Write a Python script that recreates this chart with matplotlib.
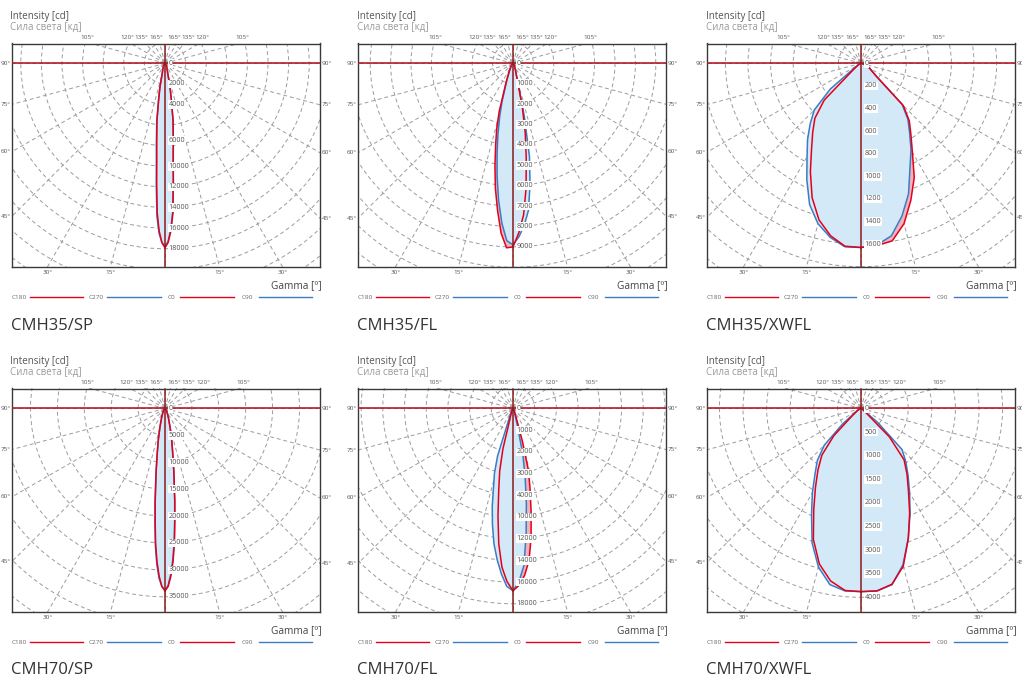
import numpy as np
import matplotlib
matplotlib.use("Agg")
import matplotlib.pyplot as plt
from matplotlib.patches import Circle
from matplotlib.lines import Line2D

plt.rcParams['font.family'] = ['Open Sans', 'DejaVu Sans']

# ---------------- data ----------------
TITLES = ["CMH35/SP", "CMH35/FL", "CMH35/XWFL", "CMH70/SP", "CMH70/FL", "CMH70/XWFL"]

# CMH35/SP
P1_GAMMA = [0, 1, 2, 3, 4, 5, 6, 8, 10, 12, 15, 20, 30, 45, 60, 90]
P1_C0 = [17900, 17400, 16300, 14600, 11650, 9200, 7750, 5650, 3500, 2350, 1050, 600, 300, 100, 50, 0]
P1_C180 = [17900, 17400, 16300, 14500, 11600, 9200, 7700, 5600, 3500, 2350, 1050, 600, 300, 100, 50, 0]
P1_C90 = [17800, 17300, 16100, 14400, 11500, 9100, 7700, 5600, 3500, 2350, 1050, 600, 300, 100, 50, 0]
P1_C270 = [17800, 17400, 16500, 14900, 12100, 9600, 8000, 5800, 3600, 2400, 1050, 600, 300, 100, 50, 0]
P1_STEP = 2000
P1_LABELS = ["0", "2000", "4000", "6000", "10000", "12000", "14000", "16000", "18000"]
P1_LABEL_R = [0, 2000, 4000, 7500, 10000, 12000, 14000, 16000, 18000]

# CMH35/FL
P2_GAMMA = [0, 2, 4, 6, 8, 10, 12, 14, 16, 20, 25, 30, 45, 60, 90]
P2_C0 = [9000, 8300, 7450, 6150, 4650, 3450, 2200, 1000, 600, 350, 200, 150, 50, 25, 0]
P2_C180 = [9000, 9050, 8350, 7250, 6200, 5100, 4100, 3300, 2450, 1000, 450, 250, 75, 25, 0]
P2_C90 = [8900, 8500, 7950, 7250, 6000, 4650, 2700, 1100, 600, 350, 200, 150, 50, 25, 0]
P2_C270 = [8900, 8700, 7850, 6750, 5600, 4500, 3550, 2700, 1950, 850, 400, 200, 75, 25, 0]
P2_STEP = 1000
P2_LABELS = ["0", "1000", "2000", "3000", "4000", "5000", "6000", "7000", "8000", "9000"]
P2_LABEL_R = [0, 1000, 2000, 3000, 4000, 5000, 6000, 7000, 8000, 9000]

# CMH35/XWFL
P3_GAMMA = [0, 5, 10, 15, 20, 25, 30, 35, 40, 45, 50, 55, 60, 70, 80, 90]
P3_C0 = [1630, 1620, 1595, 1470, 1290, 1115, 910, 770, 665, 530, 175, 115, 90, 35, 10, 0]
P3_C180 = [1630, 1625, 1550, 1435, 1265, 1060, 875, 745, 635, 460, 90, 45, 25, 15, 5, 0]
P3_C90 = [1630, 1615, 1550, 1400, 1230, 1025, 885, 750, 645, 515, 175, 115, 90, 35, 10, 0]
P3_C270 = [1630, 1630, 1565, 1470, 1330, 1135, 955, 825, 700, 585, 355, 70, 25, 15, 5, 0]
P3_STEP = 200
P3_LABELS = ["0", "200", "400", "600", "800", "1000", "1200", "1400", "1600"]
P3_LABEL_R = [0, 200, 400, 600, 800, 1000, 1200, 1400, 1600]

# CMH70/SP
P4_GAMMA = [0, 1, 2, 3, 4, 5, 6, 8, 10, 12, 15, 20, 30, 45, 60, 90]
P4_C0 = [33900, 33100, 31200, 28500, 25100, 21000, 17500, 11900, 8200, 6000, 3700, 1900, 750, 280, 90, 0]
P4_C180 = [33900, 33100, 31200, 28500, 25100, 21000, 17500, 11900, 8200, 6000, 3700, 1900, 750, 280, 90, 0]
P4_C90 = [33800, 32900, 30800, 28000, 24600, 20600, 17200, 11700, 8100, 6000, 3700, 1900, 750, 280, 90, 0]
P4_C270 = [33800, 33100, 31600, 29000, 25600, 21400, 17700, 12000, 8200, 6000, 3700, 1900, 750, 280, 90, 0]
P4_STEP = 5000
P4_LABELS = ["0", "5000", "10000", "15000", "20000", "25000", "30000", "35000"]
P4_LABEL_R = [0, 5000, 10000, 15000, 20000, 25000, 30000, 35000]

# CMH70/FL
P5_GAMMA = [0, 2, 4, 6, 8, 10, 12, 14, 16, 18, 20, 25, 30, 45, 60, 90]
P5_C0 = [16800, 16300, 15400, 14100, 12000, 9600, 7550, 5900, 3150, 1300, 750, 370, 180, 90, 45, 0]
P5_C180 = [16800, 15950, 14650, 12550, 9950, 7550, 5900, 3850, 1100, 650, 450, 280, 180, 90, 45, 0]
P5_C90 = [16800, 15950, 14500, 11600, 8850, 6450, 4400, 1850, 900, 550, 370, 280, 180, 90, 45, 0]
P5_C270 = [16800, 16400, 15300, 14000, 12600, 10900, 9200, 7400, 6200, 4600, 1400, 550, 280, 90, 45, 0]
P5_STEP = 2000
P5_LABELS = ["0", "1000", "2000", "3000", "4000", "10000", "12000", "14000", "16000", "18000"]
P5_LABEL_R = [0, 2000, 4000, 6000, 8000, 10000, 12000, 14000, 16000, 18000]

# CMH70/XWFL
P6_GAMMA = [0, 5, 10, 15, 20, 25, 30, 35, 40, 45, 50, 55, 60, 70, 80, 90]
P6_C0 = [3880, 3880, 3780, 3460, 2930, 2440, 2010, 1700, 1420, 850, 130, 65, 40, 20, 10, 0]
P6_C180 = [3880, 3870, 3710, 3410, 2950, 2370, 1930, 1590, 1290, 810, 250, 130, 85, 40, 20, 0]
P6_C90 = [3880, 3880, 3790, 3430, 2930, 2460, 2060, 1740, 1480, 1230, 470, 85, 40, 20, 10, 0]
P6_C270 = [3880, 3880, 3790, 3480, 3030, 2480, 2060, 1700, 1440, 1100, 510, 170, 85, 40, 20, 0]
P6_STEP = 500
P6_LABELS = ["0", "500", "1000", "1500", "2000", "2500", "3000", "3500", "4000"]
P6_LABEL_R = [0, 500, 1000, 1500, 2000, 2500, 3000, 3500, 4000]

# px spacing of grid circles in each panel
STEP_PX = [20.6, 20.4, 22.6, 26.9, 21.7, 23.6]

TOP_ANGLES = [105, 120, 135, 165]
SIDE_ANGLES = [90, 75, 60, 45]
BOTTOM_ANGLES = [15, 30]
LEGEND_NAMES = ["C180", "C270", "C0", "C90"]

PANELS = [
    (P1_GAMMA, P1_C0, P1_C180, P1_C90, P1_C270, P1_STEP, P1_LABELS, P1_LABEL_R),
    (P2_GAMMA, P2_C0, P2_C180, P2_C90, P2_C270, P2_STEP, P2_LABELS, P2_LABEL_R),
    (P3_GAMMA, P3_C0, P3_C180, P3_C90, P3_C270, P3_STEP, P3_LABELS, P3_LABEL_R),
    (P4_GAMMA, P4_C0, P4_C180, P4_C90, P4_C270, P4_STEP, P4_LABELS, P4_LABEL_R),
    (P5_GAMMA, P5_C0, P5_C180, P5_C90, P5_C270, P5_STEP, P5_LABELS, P5_LABEL_R),
    (P6_GAMMA, P6_C0, P6_C180, P6_C90, P6_C270, P6_STEP, P6_LABELS, P6_LABEL_R),
]

# ---------------- layout ----------------
W, H = 1022, 677
fig = plt.figure(figsize=(W / 100, H / 100), dpi=100)

COL_LEFT = [12, 358, 707]
COL_OX = [165, 513, 861]
FRAME_W = 308
ROW_TOP = [43.5, 388.5]
ROW_OY = [63.3, 408.5]
FRAME_H = 223.5
ROW_Y0 = [0, 345]

RED = "#e3001b"
BLUE = "#3b7cc4"
FILL_BLUE = "#d4e9f7"
FILL_PINK = "#f2b4bc"
GRID = "#9c9c9c"


def ftext(x, y, s, **kw):
    fig.text(x / W, 1 - y / H, s, **kw)


def fline(x0, x1, y, color):
    fig.add_artist(Line2D([x0 / W, x1 / W], [1 - y / H, 1 - y / H],
                          transform=fig.transFigure, color=color, lw=1.0))


for i, (gam, c0, c180, c90, c270, step, labels, label_r) in enumerate(PANELS):
    row, col = divmod(i, 3)
    left, ox = COL_LEFT[col], COL_OX[col]
    top, oy = ROW_TOP[row], ROW_OY[row]
    y0 = ROW_Y0[row]
    right = left + FRAME_W
    bottom = top + FRAME_H
    cpp = step / STEP_PX[i]  # cd per pixel

    ax = fig.add_axes([left / W, 1 - bottom / H, FRAME_W / W, FRAME_H / H])
    ax.set_xlim((left - ox) * cpp, (right - ox) * cpp)
    ax.set_ylim(-(bottom - oy) * cpp, (oy - top) * cpp)
    ax.set_xticks([])
    ax.set_yticks([])
    for sp in ax.spines.values():
        sp.set_color("#3a3a3a")
        sp.set_linewidth(1.0)

    # grid circles
    nmax = int(270 / STEP_PX[i]) + 1
    for k in range(1, nmax + 1):
        ax.add_patch(Circle((0, 0), k * step, fill=False, ec=GRID, lw=0.7,
                            ls=(0, (4, 3)), zorder=1))
    ax.add_patch(Circle((0, 0), 4.5 * cpp, fill=False, ec=GRID, lw=0.7,
                        ls=(0, (2, 2)), zorder=1))
    # radial lines every 15 degrees
    R = 400 * cpp
    for a in range(0, 360, 15):
        t = np.deg2rad(a)
        ax.plot([0, R * np.sin(t)], [0, -R * np.cos(t)], color=GRID, lw=0.7,
                ls=(0, (4, 3)), zorder=1)

    g = np.deg2rad(np.array(gam, dtype=float))
    c0, c180, c90, c270 = (np.array(v, dtype=float) for v in (c0, c180, c90, c270))

    # polygons: red plane (C180 left + C0 right), blue plane (C270 left + C90 right)
    xr = np.concatenate([-c180[::-1] * np.sin(g[::-1]), c0 * np.sin(g)])
    yr = np.concatenate([-c180[::-1] * np.cos(g[::-1]), -c0 * np.cos(g)])
    xb = np.concatenate([-c270[::-1] * np.sin(g[::-1]), c90 * np.sin(g)])
    yb = np.concatenate([-c270[::-1] * np.cos(g[::-1]), -c90 * np.cos(g)])
    ax.fill(xr, yr, color=FILL_PINK, lw=0, zorder=2)
    ax.fill(xb, yb, color=FILL_BLUE, lw=0, zorder=3)

    ax.plot(-c270 * np.sin(g), -c270 * np.cos(g), color=BLUE, lw=1.1, zorder=5)
    ax.plot(c90 * np.sin(g), -c90 * np.cos(g), color=BLUE, lw=1.1, zorder=5)
    ax.plot(-c180 * np.sin(g), -c180 * np.cos(g), color=RED, lw=1.1, zorder=6)
    ax.plot(c0 * np.sin(g), -c0 * np.cos(g), color=RED, lw=1.1, zorder=6)

    ax.axhline(0, color="#b01c2a", lw=1.2, zorder=7)
    ax.axvline(0, color="#8a1c1c", lw=1.1, zorder=7)

    for lab, rr in zip(labels, label_r):
        ax.text(3.5 * cpp, -rr, lab, fontsize=5.2, color="#555555", ha="left",
                va="center", zorder=8,
                bbox=dict(boxstyle="square,pad=0.1", fc="white", ec="none"))

    # angle labels around the frame
    up = oy - top
    for a in TOP_ANGLES:
        dx = abs(up / np.tan(np.deg2rad(a - 90)))
        for s in (-1, 1):
            ftext(ox + s * (dx + 3.5), top - 5.8, f"{a}°", fontsize=4.6,
                  color="#555555", ha="center", va="center")
    for a in SIDE_ANGLES:
        yl = oy + (ox - left) / np.tan(np.deg2rad(a))
        yr_ = oy + (right - ox) / np.tan(np.deg2rad(a))
        if yl < bottom:
            ftext(left - 1.5, yl, f"{a}°", fontsize=4.6, color="#555555",
                  ha="right", va="center")
        if yr_ < bottom:
            ftext(right + 2, yr_, f"{a}°", fontsize=4.6, color="#555555",
                  ha="left", va="center")
    down = bottom - oy
    for a in BOTTOM_ANGLES:
        dx = down * np.tan(np.deg2rad(a))
        for s in (-1, 1):
            ftext(ox + s * dx, bottom + 5.2, f"{a}°", fontsize=4.6,
                  color="#555555", ha="center", va="center")

    # texts
    tx = left - 1.5
    ftext(tx, y0 + 16.7, "Intensity [cd]", fontsize=7, color="#555555",
          ha="left", va="center")
    ftext(tx, y0 + 27.5, "Сила света [кд]", fontsize=7, color="#9a9a9a",
          ha="left", va="center")
    ftext(right + 2, y0 + 285.7, "Gamma [º]", fontsize=7.3, color="#444444",
          ha="right", va="center")
    ftext(tx, y0 + 325.5, TITLES[i], fontsize=12, color="#333333",
          ha="left", va="center")

    # legend row
    ly = y0 + 297
    leg = [(0, 18.3, 71.3, RED), (76.3, 95.3, 149.3, BLUE),
           (155.3, 168.3, 222.3, RED), (229.3, 247.3, 300.3, BLUE)]
    for name, (t0, l0, l1, colr) in zip(LEGEND_NAMES, leg):
        ftext(left + t0, ly, name, fontsize=4.6, color="#666666", ha="left",
              va="center")
        fline(left + l0, left + l1, ly, colr)

fig.savefig("out.png", dpi=100)
